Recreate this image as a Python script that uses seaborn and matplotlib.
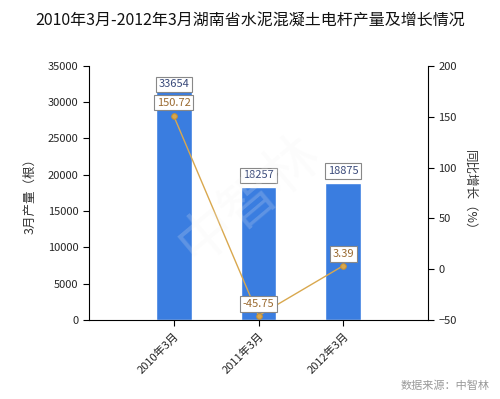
import matplotlib
matplotlib.use('Agg')
import matplotlib.pyplot as plt
import seaborn as sns
import pandas as pd

# data
categories = ["2010年3月", "2011年3月", "2012年3月"]
output = [33654, 18257, 18875]
growth = [150.72, -45.75, 3.39]

sns.set_style("white")
plt.rcParams['font.family'] = ['Noto Sans CJK SC', 'DejaVu Sans']

df = pd.DataFrame({"month": categories, "output": output, "growth": growth})

fig = plt.figure(figsize=(5, 3.99), dpi=100)
ax = fig.add_axes([0.178, 0.198, 0.678, 0.637])

sns.barplot(data=df, x="month", y="output", color="#3a7de0", saturation=1,
            width=0.42, ax=ax)
ax.set_xlim(-1, 3)
ax.set_ylim(0, 35000)
ax.set_yticks(range(0, 35001, 5000))
ax.set_xlabel("")
ax.set_ylabel("3月产量（根）", fontsize=9, color="#333333", labelpad=8)
ax.tick_params(axis='both', labelsize=8, length=4, direction='out',
               bottom=True, left=True, color='black')
ax.set_xticks(range(len(categories)))
ax.set_xticklabels(categories, rotation=45, ha='right', rotation_mode='anchor')
for s in ['top', 'right']:
    ax.spines[s].set_visible(False)
for s in ['left', 'bottom']:
    ax.spines[s].set_color('black')

ax2 = ax.twinx()
sns.lineplot(x=list(range(len(categories))), y=growth, ax=ax2, color="#d9a84e",
             linewidth=1, marker='o', markersize=4, markeredgecolor="#c89030")
ax2.set_ylim(-50, 200)
ax2.set_yticks(range(-50, 201, 50))
ax2.tick_params(axis='y', labelsize=8, length=4, direction='out', right=True,
                color='black')
ax2.set_ylabel("同比增长（%）", fontsize=9, color="#333333", rotation=-90,
               labelpad=14)
for s in ['top', 'left', 'bottom']:
    ax2.spines[s].set_visible(False)
ax2.spines['right'].set_color('black')

# faint watermark
fig.text(0.5, 0.5, "中智林", fontsize=40, color='#f2f2f2', alpha=0.2,
         rotation=40, ha='center', va='center', zorder=10)

box = dict(boxstyle='square,pad=0.25', fc='white', ec='#888888', lw=0.8)
bar_offsets = [-10, 5, 5]
for i, v in enumerate(output):
    ax.annotate(str(v), (i, v), xytext=(0, bar_offsets[i]), textcoords='offset points',
                ha='center', va='bottom', fontsize=8, color='#3a4a7a', bbox=box,
                zorder=5)
line_offsets = [6, 5, 5]
for i, v in enumerate(growth):
    ax2.annotate(f"{v:.2f}", (i, v), xytext=(0, line_offsets[i]), textcoords='offset points',
                 ha='center', va='bottom', fontsize=8, color='#9a6a30', bbox=box)

fig.suptitle("2010年3月-2012年3月湖南省水泥混凝土电杆产量及增长情况",
             fontsize=11.5, y=0.97, color='#111111')
fig.text(0.98, 0.02, "数据来源：中智林", ha='right', va='bottom', fontsize=8,
         color='#999999')

fig.savefig("out.png", dpi=100)
